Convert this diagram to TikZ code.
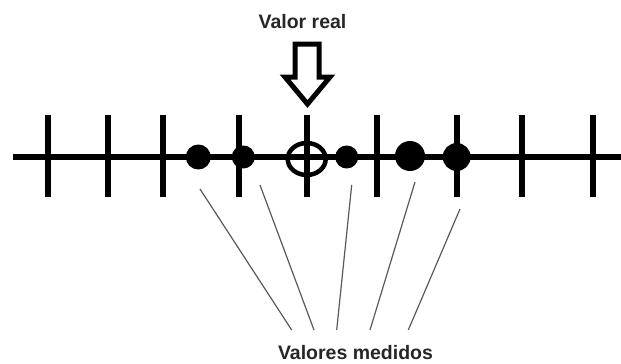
\documentclass[tikz,border=0pt]{standalone}
\usepackage{fontspec}
\setmainfont{Liberation Sans}
\usetikzlibrary{positioning}

\begin{document}
\begin{tikzpicture}[x=1pt, y=-1pt,
    lbl/.style={font=\fontsize{19.5}{23}\selectfont\bfseries, text=black!85, inner sep=0pt, anchor=base},
    dot/.style={circle, fill=black, inner sep=0pt, minimum size=#1},
    pointer/.style={draw=black!65, line width=1.2pt}]
    \useasboundingbox (0,0) rectangle (621,364);
    % axis and ticks
    \draw[line width=6pt] (13,157) -- (621,157);
    \foreach \t in {48.3,108.3,162.7,239.3,306.7,377.3,456.7,521.7,592.7}
        \draw[line width=6pt] (\t,115) -- (\t,197);
    % true value
    \node[lbl] (real) at (302.5,28.5) {Valor real};
    \draw[line width=5pt, line join=miter] (295,44) -- (319,44) -- (319,77) -- (330,77)
        -- (307.5,104) -- (285,77) -- (295,77) -- cycle;
    \draw[line width=4.5pt] (306.7,159) ellipse [x radius=19, y radius=16];
    % measured values
    \node[dot=25] (m1) at (198.3,157) {};
    \node[dot=23] (m2) at (243.3,157) {};
    \node[dot=23] (m3) at (346.7,157) {};
    \node[dot=30] (m4) at (410,156) {};
    \node[dot=28] (m5) at (456.7,157) {};
    \node[lbl] (medidos) at (355.5,359) {Valores medidos};
    \coordinate (s1) at (200,189);   \coordinate (e1) at (291.7,330);
    \coordinate (s2) at (260,185);   \coordinate (e2) at (314,330);
    \coordinate (s3) at (351.7,185); \coordinate (e3) at (336.7,330);
    \coordinate (s4) at (415,182);   \coordinate (e4) at (370,330);
    \coordinate (s5) at (460,209);   \coordinate (e5) at (408.3,330);
    \foreach \i in {1,...,5}
        \draw[pointer] (s\i) -- (e\i);
\end{tikzpicture}
\end{document}
